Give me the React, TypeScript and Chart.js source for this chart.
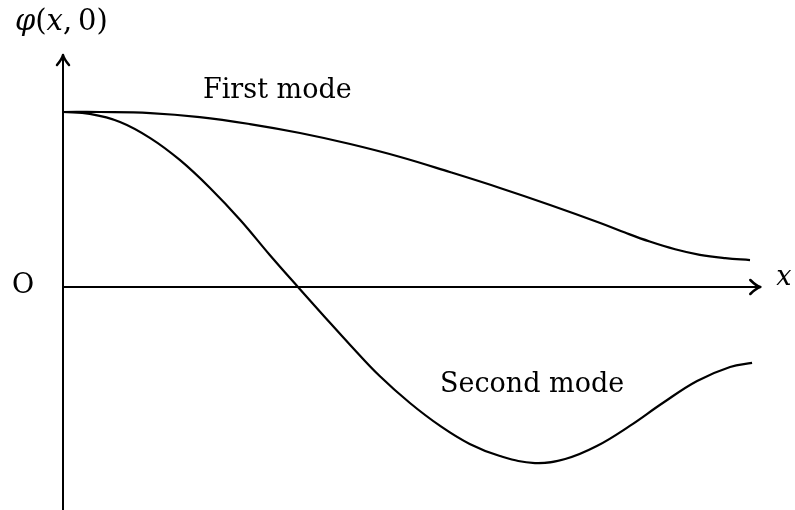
import React, { useEffect, useRef } from "react";
import { Chart, registerables } from "chart.js";

Chart.register(...registerables);

// Normalised beam coordinate (0 = clamped end, 1 = free end)
const FIRST_X = [0, 0.054, 0.127, 0.199, 0.272, 0.345, 0.418, 0.491, 0.563, 0.636, 0.709, 0.782, 0.818, 0.854, 0.891, 0.927, 0.964, 1.0];
const FIRST_Y = [1.0, 1.0, 0.994, 0.971, 0.931, 0.88, 0.817, 0.743, 0.657, 0.566, 0.469, 0.366, 0.311, 0.26, 0.216, 0.184, 0.165, 0.154];

const SECOND_X = [0, 0.039, 0.083, 0.127, 0.17, 0.214, 0.258, 0.301, 0.342, 0.381, 0.418, 0.461, 0.505, 0.549, 0.592, 0.636, 0.687, 0.731, 0.777, 0.825, 0.873, 0.923, 0.971, 1.003];
const SECOND_Y = [1.0, 0.989, 0.943, 0.851, 0.726, 0.566, 0.383, 0.183, 0.0, -0.171, -0.331, -0.509, -0.663, -0.794, -0.897, -0.966, -1.006, -0.983, -0.909, -0.794, -0.663, -0.537, -0.457, -0.434];

const LABEL_FIRST = "First mode";
const LABEL_SECOND = "Second mode";

const INK = "#000000";

const axesPlugin = {
  id: "sketchAxes",
  afterDatasetsDraw(chart: any) {
    const ctx = chart.ctx as CanvasRenderingContext2D;
    const xs = chart.scales.x;
    const ys = chart.scales.y;
    const x0 = xs.getPixelForValue(0);
    const y0 = ys.getPixelForValue(0);
    const xEnd = xs.getPixelForValue(1.015);
    const yTop = 55;
    const yBot = chart.height;
    ctx.save();
    ctx.strokeStyle = INK;
    ctx.lineWidth = 2;
    ctx.lineCap = "round";
    ctx.lineJoin = "round";
    // vertical axis
    ctx.beginPath();
    ctx.moveTo(x0, yBot);
    ctx.lineTo(x0, yTop);
    ctx.stroke();
    // arrow head (up)
    ctx.lineWidth = 2.5;
    ctx.beginPath();
    ctx.moveTo(x0 - 6, yTop + 10);
    ctx.quadraticCurveTo(x0 - 1, yTop + 4, x0, yTop);
    ctx.quadraticCurveTo(x0 + 1, yTop + 4, x0 + 6, yTop + 10);
    ctx.stroke();
    // horizontal axis
    ctx.lineWidth = 2;
    ctx.beginPath();
    ctx.moveTo(x0, y0);
    ctx.lineTo(xEnd, y0);
    ctx.stroke();
    ctx.lineWidth = 2.5;
    ctx.beginPath();
    ctx.moveTo(xEnd - 10, y0 - 7);
    ctx.quadraticCurveTo(xEnd - 4, y0 - 1, xEnd, y0);
    ctx.quadraticCurveTo(xEnd - 4, y0 + 1, xEnd - 10, y0 + 7);
    ctx.stroke();

    // texts
    ctx.fillStyle = INK;
    ctx.textBaseline = "alphabetic";
    const up = '27px "DejaVu Serif"';
    const it = 'italic 27px "DejaVu Serif"';
    const upL = '29px "DejaVu Serif"';
    const itL = 'italic 29px "DejaVu Serif"';
    // φ(x, 0)
    let cx = 15;
    const by = 30;
    const parts: [string, string][] = [
      ["\u03C6", itL],
      ["(", upL],
      ["x", itL],
      [",", upL],
      ["\u2009", upL],
      ["0", upL],
      [")", upL],
    ];
    for (const [t, f] of parts) {
      ctx.font = f;
      ctx.fillText(t, cx, by);
      cx += ctx.measureText(t).width;
    }
    ctx.font = up;
    ctx.fillText("O", 12, y0 + 6);
    ctx.font = it;
    ctx.fillText("x", xEnd + 16, y0 - 2);
    ctx.font = up;
    ctx.fillText(LABEL_FIRST, 203, 98);
    ctx.fillText(LABEL_SECOND, 440, 392);
    ctx.restore();
  },
};

export default function App() {
  const ref = useRef<HTMLCanvasElement | null>(null);
  useEffect(() => {
    if (!ref.current) return;
    const chart = new Chart(ref.current, {
      type: "line",
      data: {
        datasets: [
          {
            label: LABEL_FIRST,
            data: FIRST_X.map((x, i) => ({ x, y: FIRST_Y[i] })),
            borderColor: INK,
            borderWidth: 2.2,
            pointRadius: 0,
            tension: 0.4,
            fill: false,
          },
          {
            label: LABEL_SECOND,
            data: SECOND_X.map((x, i) => ({ x, y: SECOND_Y[i] })),
            borderColor: INK,
            borderWidth: 2.2,
            pointRadius: 0,
            tension: 0.4,
            fill: false,
          },
        ],
      },
      options: {
        animation: false,
        responsive: false,
        devicePixelRatio: 1,
        layout: { padding: 0 },
        plugins: { legend: { display: false }, tooltip: { enabled: false }, title: { display: false } },
        events: [],
        scales: {
          x: { type: "linear", min: -63 / 687, max: 732 / 687, display: false },
          y: { type: "linear", min: -223 / 175, max: 287 / 175, display: false },
        },
      },
      plugins: [axesPlugin],
    });
    return () => chart.destroy();
  }, []);
  return (
    <div style={{ position: "fixed", left: 0, top: 0, width: 795, height: 510, background: "#fff" }}>
      <canvas ref={ref} width={795} height={510} style={{ display: "block" }} />
    </div>
  );
}
